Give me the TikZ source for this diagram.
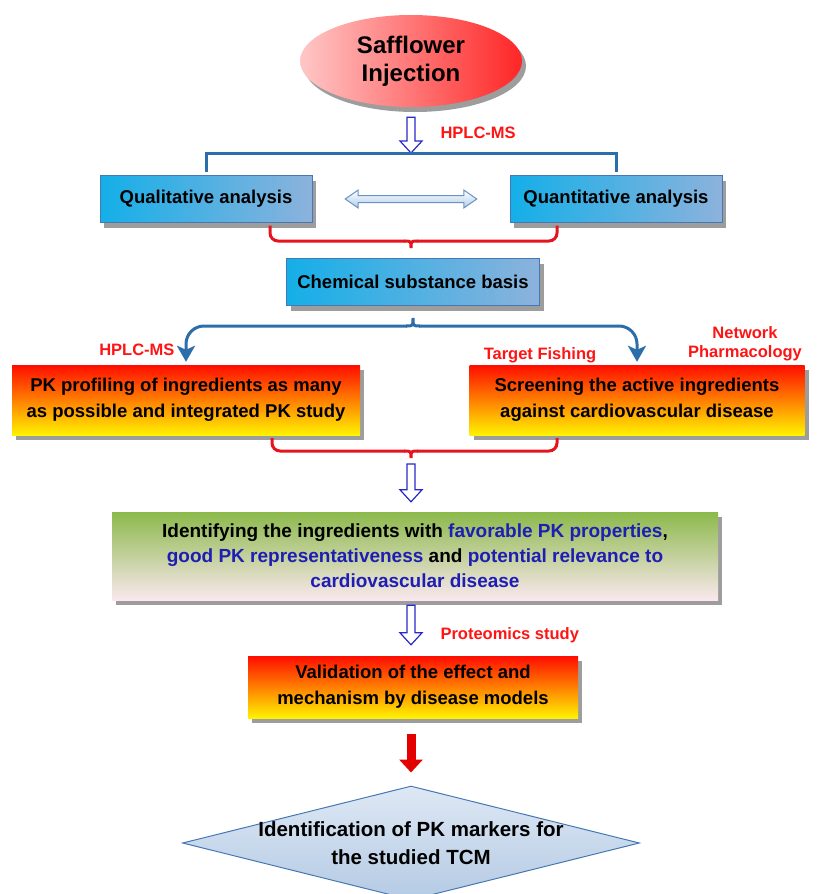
\documentclass[tikz,border=0pt]{standalone}
\usepackage{fontspec}
\setmainfont{Liberation Sans}
\usetikzlibrary{shapes.geometric,shadows,arrows.meta,calc}

\definecolor{brkblue}{RGB}{44,110,170}
\definecolor{brkred}{RGB}{230,20,30}
\definecolor{lblred}{RGB}{255,20,20}
\definecolor{txtblue}{RGB}{30,30,180}
\definecolor{boxcyan}{RGB}{20,175,232}
\definecolor{boxlight}{RGB}{175,205,235}
\definecolor{boxsteel}{RGB}{140,178,220}
\definecolor{boxline}{RGB}{70,120,180}
\definecolor{arrblue}{RGB}{40,40,200}

\tikzset{
  shadowed/.style={drop shadow={shadow xshift=4pt,shadow yshift=-5pt,fill=black!70,opacity=0.55}},
  bluebox/.style={shadowed,draw=boxline,left color=boxcyan,middle color=boxlight,right color=boxsteel,
    minimum height=47pt,inner sep=0pt,font=\bfseries\fontsize{18.5}{22}\selectfont},
  hotbox/.style={shadowed,top color=red!90!orange,middle color=orange!90!red,bottom color=yellow!90!orange,
    align=center,inner sep=0pt,font=\bfseries\fontsize{18.5}{26}\selectfont},
  greenbox/.style={shadowed,top color={rgb,255:red,140;green,185;blue,75},bottom color={rgb,255:red,250;green,232;blue,238},
    align=center,inner sep=0pt,font=\bfseries\fontsize{19}{25}\selectfont},
  lbl/.style={text=lblred,font=\bfseries\fontsize{16.5}{19}\selectfont},
  bluebrk/.style={draw=brkblue,line width=3pt},
  redbrk/.style={draw=brkred,line width=3pt,rounded corners=8pt},
  hollowarr/.style={draw=arrblue,fill=white,line width=1.2pt,line join=miter},
  dblarr/.style={draw=boxline!80,top color=white,bottom color=boxlight,line width=1pt},
  redarrow/.style={draw=red!90!black,line width=9pt,-{Triangle[length=13pt,width=23pt]}}
}

% hollow arrow pointing down
\newcommand\hollowdown[2]{%
  \path[hollowarr] let \p1=#1, \p2=#2 in
    (\x1-4pt,\y1) -- (\x1-4pt,\y2+12pt) -- (\x1-11pt,\y2+12pt) -- (\x1,\y2)
    -- (\x1+11pt,\y2+12pt) -- (\x1+4pt,\y2+12pt) -- (\x1+4pt,\y1) -- cycle;}
% hollow double arrow
\newcommand\hollowboth[2]{%
  \path[dblarr] let \p1=#1, \p2=#2 in
    (\x1,\y1) -- (\x1+13pt,\y1+9pt) -- (\x1+13pt,\y1+3.5pt) -- (\x2-13pt,\y1+3.5pt)
    -- (\x2-13pt,\y1+9pt) -- (\x2,\y1) -- (\x2-13pt,\y1-9pt) -- (\x2-13pt,\y1-3.5pt)
    -- (\x1+13pt,\y1-3.5pt) -- (\x1+13pt,\y1-9pt) -- cycle;}
% brace cusp at a named coordinate, pointing up (+) or down (-)
\newcommand\cusp[3]{%
  \draw[#1,line width=3pt] ([xshift=-7pt]#2) .. controls (#2) .. ([yshift=#3]#2)
    .. controls (#2) .. ([xshift=7pt]#2);}

\begin{document}
\begin{tikzpicture}[x=1pt,y=-1pt]

	\useasboundingbox (0,0) rectangle (817,894);

	% top
	\node[ellipse,shadowed,left color=red!22,right color=red!85,minimum width=222pt,minimum height=92pt,
	  inner sep=0pt,align=center,font=\bfseries\fontsize{24}{28}\selectfont] (inj) at (411,61) {Safflower\\Injection};
	\coordinate (split1) at (411,153);
	\hollowdown{([yshift=-10pt]inj.south)}{(split1)}
	\node[lbl,anchor=west] (hplcA) at (437,133) {HPLC-MS};

	% analysis boxes
	\node[bluebox,minimum width=212pt] (qual) at (206,199) {Qualitative analysis};
	\node[bluebox,minimum width=212pt] (quant) at (616,199) {Quantitative analysis};
	\draw[bluebrk,shorten <=3pt,shorten >=3pt] (qual.north) |- (split1) -| (quant.north);
	\hollowboth{([xshift=33pt]qual.east)}{([xshift=-33pt]quant.west)}

	% red bracket 1
	\coordinate (rb1) at (411,241);
	\draw[redbrk,shorten <=3pt] ([xshift=64pt]qual.south) |- ([xshift=-6pt]rb1);
	\draw[redbrk,shorten <=3pt] ([xshift=-59pt]quant.south) |- ([xshift=6pt]rb1);
	\cusp{brkred}{rb1}{-7pt}

	% chemical basis
	\node[bluebox,minimum width=253pt] (chem) at (413,282) {Chemical substance basis};
	\coordinate (brc) at (413,326);
	\cusp{brkblue}{brc}{8pt}

	% two branches
	\node[hotbox,minimum width=348pt,minimum height=70pt] (pk) at (186,400)
	  {PK profiling of ingredients as many\\as possible and integrated PK study};
	\node[hotbox,minimum width=335pt,minimum height=70pt] (scr) at (637,400)
	  {Screening the active ingredients\\against cardiovascular disease};
	\draw[bluebrk,rounded corners=18pt,-{Stealth[length=16pt,width=18pt,inset=4pt]},shorten >=3pt]
	  ([xshift=-6pt]brc) -| (pk.north);
	\draw[bluebrk,rounded corners=18pt,-{Stealth[length=16pt,width=18pt,inset=4pt]},shorten >=3pt]
	  ([xshift=6pt]brc) -| (scr.north);
	\node[lbl,anchor=east] (hplcB) at (178,350) {HPLC-MS};
	\node[lbl] (fish) at (540,355) {Target Fishing};
	\node[lbl,align=center] (netw) at (745,344) {Network\\Pharmacology};

	% red bracket 2
	\coordinate (rb2) at (411,451);
	\draw[redbrk,shorten <=3pt] ([xshift=86pt]pk.south) |- ([xshift=-6pt]rb2);
	\draw[redbrk,shorten <=3pt] ([xshift=-80pt]scr.south) |- ([xshift=6pt]rb2);
	\cusp{brkred}{rb2}{-7pt}

	% identification box
	\node[greenbox,minimum width=606pt,minimum height=88pt] (ident) at (415,556)
	  {Identifying the ingredients with {\color{txtblue}favorable PK properties},\\
	   {\color{txtblue}good PK representativeness} and {\color{txtblue}potential relevance to}\\
	   {\color{txtblue}cardiovascular disease}};
	\hollowdown{([yshift=-13pt]rb2)}{([yshift=10pt]ident.north -| rb2)}

	% validation
	\node[hotbox,minimum width=330pt,minimum height=62pt] (val) at (413,687)
	  {Validation of the effect and\\mechanism by disease models};
	\hollowdown{([yshift=-5pt]ident.south -| rb2)}{([yshift=11pt]val.north -| rb2)}
	\node[lbl,anchor=west] (prot) at (437,635) {Proteomics study};

	% final diamond
	\node[diamond,draw=boxline,line width=1pt,top color={rgb,255:red,222;green,232;blue,244},
	  bottom color={rgb,255:red,180;green,202;blue,228},minimum width=457pt,minimum height=114pt,inner sep=0pt] (dia) at (411,843) {};
	\node[align=center,font=\bfseries\fontsize{20.5}{28}\selectfont] (diatxt) at (dia.center)
	  {Identification of PK markers for\\the studied TCM};
	\draw[redarrow,shorten <=16pt,shorten >=13pt] (val.south -| dia.north) -- (dia.north);

\end{tikzpicture}
\end{document}
